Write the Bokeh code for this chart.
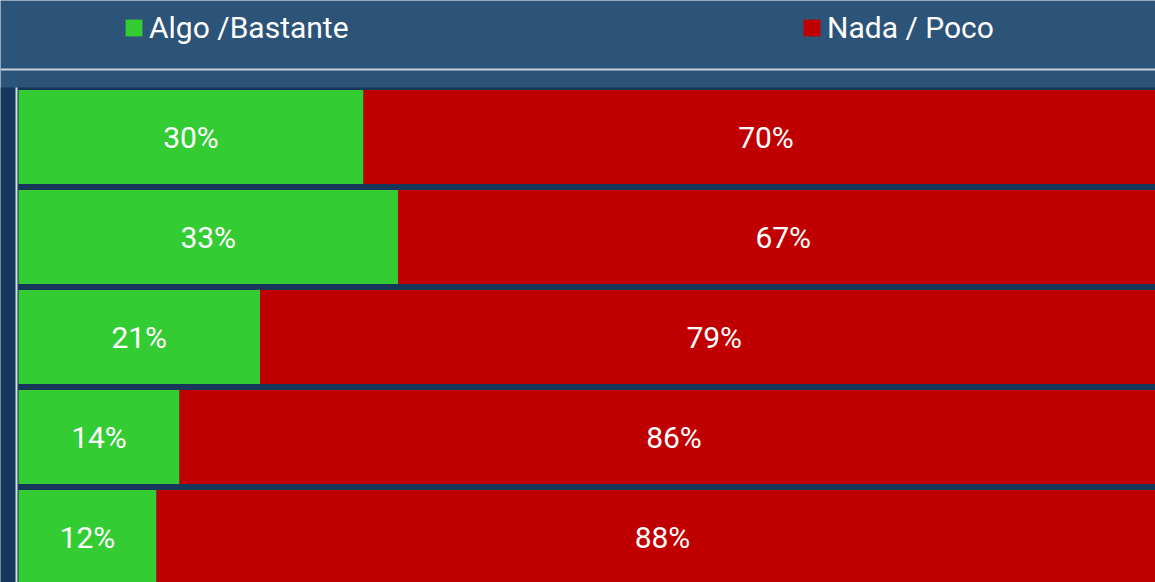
from bokeh.plotting import figure
from bokeh.models import Range1d, ColumnDataSource, Legend, LegendItem, Span, BoxAnnotation
from bokeh.core.properties import value
from bokeh.embed import file_html
from bokeh.resources import INLINE

# ---- data ----
rows = ["Fila 1", "Fila 2", "Fila 3", "Fila 4", "Fila 5"]
algo_bastante = [30, 33, 21, 14, 12]
nada_poco = [70, 67, 79, 86, 88]
series_labels = ["Algo /Bastante", "Nada / Poco"]
colors = ["#33cc33", "#c00000"]

W, H = 1155, 582
PX_X = 11.5      # pixels per percent
PX_Y = 100.0     # pixels per row
x0 = -18 / PX_X
y_top = 5 + 136.5 / PX_Y

ypos = [len(rows) - i for i in range(len(rows))]
g_left = [0] * len(rows)
g_right = algo_bastante
r_left = algo_bastante
r_right = [a + b for a, b in zip(algo_bastante, nada_poco)]

src = ColumnDataSource(dict(
    y=ypos, gl=g_left, gr=g_right, rl=r_left, rr=r_right,
    gx=[(a + b) / 2 for a, b in zip(g_left, g_right)],
    rx=[(a + b) / 2 for a, b in zip(r_left, r_right)],
    gt=[f"{v}%" for v in algo_bastante],
    rt=[f"{v}%" for v in nada_poco],
))

p = figure(width=W, height=H, output_backend="svg", toolbar_location=None,
           x_range=Range1d(x0, x0 + W / PX_X),
           y_range=Range1d(y_top - H / PX_Y, y_top),
           min_border=0, min_border_left=0, min_border_right=0,
           min_border_top=0, min_border_bottom=0)
p.xaxis.visible = False
p.yaxis.visible = False
p.xgrid.visible = False
p.ygrid.visible = False
p.outline_line_color = None
p.background_fill_color = "#2c5378"
p.border_fill_color = "#2c5378"

# darker backdrop behind the bar area
p.add_layout(BoxAnnotation(top=y_top - 0.87, fill_color="#16365a", fill_alpha=1,
                           line_color=None, level="underlay"))

g = p.hbar(y="y", left="gl", right="gr", height=0.94, source=src,
           fill_color=colors[0], line_color=None)
r = p.hbar(y="y", left="rl", right="rr", height=0.94, source=src,
           fill_color=colors[1], line_color=None)

for col, xcol in (("gt", "gx"), ("rt", "rx")):
    p.text(x=xcol, y="y", text=col, source=src, text_color="white",
           text_font=value("Roboto"), text_font_size=value("30px"),
           text_align="center", text_baseline="middle")

# axis line at left
p.segment(x0=[-2 / PX_X], x1=[-2 / PX_X], y0=[y_top - 0.87], y1=[y_top - H / PX_Y],
          line_color="#d8dee6", line_width=2)
# horizontal separator
p.add_layout(Span(location=y_top - 0.69, dimension="width",
                  line_color="#c9d3de", line_width=2))

for item_r, lab, vx in ((g, series_labels[0], 123), (r, series_labels[1], 801)):
    leg = Legend(items=[LegendItem(label=lab, renderers=[item_r])],
                 location=(vx, 537), orientation="horizontal",
                 glyph_width=21, glyph_height=21, label_standoff=5,
                 padding=0, margin=0, spacing=0,
                 label_text_color="white", label_text_font="Roboto",
                 label_text_font_size="30px",
                 border_line_color=None, background_fill_alpha=0)
    p.add_layout(leg)

open("out.html", "w").write(file_html(p, INLINE))
